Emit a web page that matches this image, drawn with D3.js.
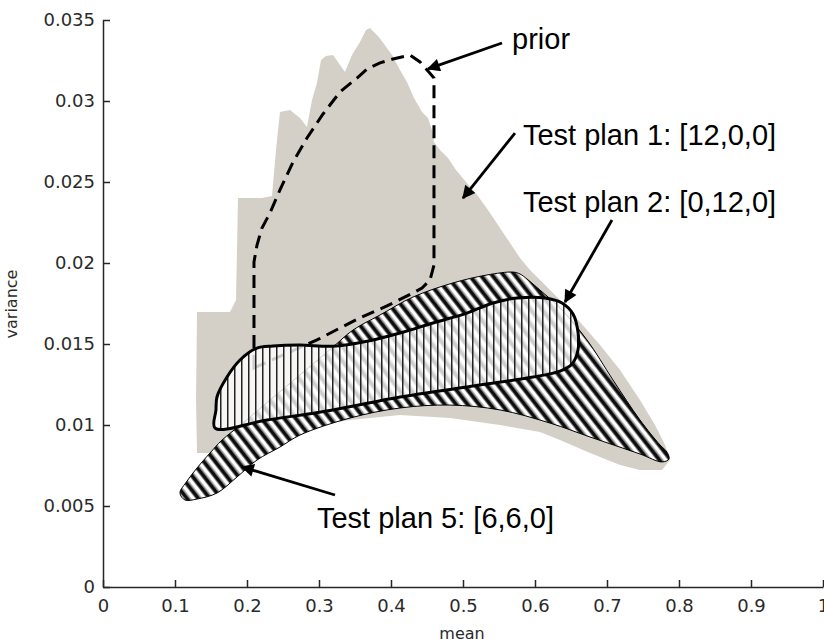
<!DOCTYPE html>
<html>
<head>
<meta charset="UTF-8">
<title>mean vs variance</title>
<style>
    body { margin: 0; padding: 0; background: #fff; }
    svg { display: block; }
    .axis text { font-family: 'DejaVu Sans', sans-serif; font-size: 18px; fill: #2a2a2a; }
    .axis path, .axis line { stroke: #262626; stroke-width: 1.5px; }
    .note { font-family: 'Liberation Sans', Arial, sans-serif; font-size: 29px; fill: #000; }
    .axlabel { font-family: 'DejaVu Sans', sans-serif; font-size: 16px; fill: #2a2a2a; }
</style>
</head>
<body>
<svg></svg>
<script src="https://d3js.org/d3.v7.min.js"></script>
<script>

// canvas
let w = 824, h = 644;

// ticks
let meanTicks = [0, 0.1, 0.2, 0.3, 0.4, 0.5, 0.6, 0.7, 0.8, 0.9, 1];
let meanTickLabels = ["0", "0.1", "0.2", "0.3", "0.4", "0.5", "0.6", "0.7", "0.8", "0.9", "1"];
let varTicks = [0, 0.005, 0.01, 0.015, 0.02, 0.025, 0.03, 0.035];
let varTickLabels = ["0", "0.005", "0.01", "0.015", "0.02", "0.025", "0.03", "0.035"];

// test plan 1: [12,0,0] - the grey cloud  [mean, variance]
let plan1 = [
    [0.3708, 0.03451], [0.3819, 0.03401], [0.3903, 0.03352], [0.4014, 0.03284], [0.4125, 0.03191],
    [0.4222, 0.03117], [0.4319, 0.03019], [0.4431, 0.02932], [0.4514, 0.02895], [0.4569, 0.02821],
    [0.4597, 0.02747], [0.4681, 0.02698], [0.4792, 0.02648], [0.4903, 0.02574], [0.5042, 0.02500],
    [0.5208, 0.02414], [0.5347, 0.02327], [0.5514, 0.02216], [0.5653, 0.02123], [0.5792, 0.02031],
    [0.5931, 0.01957], [0.6139, 0.01864], [0.6347, 0.01772], [0.6625, 0.01636], [0.6903, 0.01494],
    [0.7181, 0.01340], [0.7458, 0.01154], [0.7667, 0.01000], [0.7806, 0.00877], [0.7875, 0.00784],
    [0.7764, 0.00722], [0.7458, 0.00722], [0.7181, 0.00753], [0.6764, 0.00827], [0.6347, 0.00907],
    [0.6069, 0.00957], [0.5514, 0.01000], [0.4819, 0.01043], [0.4125, 0.01062], [0.3431, 0.01031],
    [0.2736, 0.00981], [0.2181, 0.00920], [0.1764, 0.00864], [0.1556, 0.00827], [0.1306, 0.00827],
    [0.1292, 0.01154], [0.1306, 0.01698], [0.1764, 0.01698], [0.1847, 0.01772], [0.1861, 0.02080],
    [0.1875, 0.02401], [0.2208, 0.02401], [0.2347, 0.02414], [0.2403, 0.02698], [0.2458, 0.02932],
    [0.2597, 0.02944], [0.2736, 0.02895], [0.2833, 0.02840], [0.2903, 0.03006], [0.2972, 0.03111],
    [0.3028, 0.03253], [0.3097, 0.03278], [0.3194, 0.03284], [0.3292, 0.03222], [0.3361, 0.03179],
    [0.3458, 0.03284], [0.3569, 0.03364], [0.3653, 0.03438]
];

// prior (dashed outline)
let prior = [
    [0.2097, 0.01352], [0.2097, 0.01772], [0.2097, 0.02006], [0.2139, 0.02111], [0.2208, 0.02216],
    [0.2319, 0.02309], [0.2458, 0.02451], [0.2639, 0.02623], [0.2833, 0.02772], [0.3056, 0.02920],
    [0.3292, 0.03056], [0.3528, 0.03142], [0.3667, 0.03198], [0.3847, 0.03235], [0.4028, 0.03259],
    [0.4264, 0.03284], [0.4403, 0.03241], [0.4514, 0.03185], [0.4597, 0.03142], [0.4597, 0.01988],
    [0.4542, 0.01895], [0.4431, 0.01846], [0.4306, 0.01815], [0.3944, 0.01735], [0.3569, 0.01661],
    [0.3292, 0.01599], [0.2972, 0.01525], [0.2597, 0.01451]
];

// test plan 5: [6,6,0] - diagonal hatch
let plan5 = [
    [0.1069, 0.00580], [0.1167, 0.00654], [0.1306, 0.00735], [0.1486, 0.00827], [0.1653, 0.00907],
    [0.1944, 0.01012], [0.2319, 0.01154], [0.2736, 0.01309], [0.3194, 0.01481], [0.3472, 0.01586],
    [0.3847, 0.01679], [0.4306, 0.01790], [0.4861, 0.01877], [0.5333, 0.01926], [0.5694, 0.01944],
    [0.5792, 0.01932], [0.5889, 0.01901], [0.6069, 0.01833], [0.6347, 0.01722], [0.6722, 0.01525],
    [0.7083, 0.01278], [0.7458, 0.01031], [0.7736, 0.00877], [0.7833, 0.00833], [0.7861, 0.00790],
    [0.7764, 0.00772], [0.7458, 0.00821], [0.6764, 0.00926], [0.6208, 0.01012], [0.5514, 0.01093],
    [0.4819, 0.01123], [0.4125, 0.01105], [0.3431, 0.01043], [0.2736, 0.00938], [0.2458, 0.00864],
    [0.2139, 0.00784], [0.1861, 0.00679], [0.1583, 0.00580], [0.1306, 0.00543], [0.1139, 0.00537]
];

// test plan 2: [0,12,0] - vertical hatch, thick outline
let plan2 = [
    [0.1556, 0.00981], [0.1569, 0.01093], [0.1583, 0.01173], [0.1722, 0.01296], [0.1903, 0.01401],
    [0.2139, 0.01475], [0.2361, 0.01488], [0.2736, 0.01494], [0.3194, 0.01486], [0.3667, 0.01517],
    [0.4125, 0.01568], [0.4583, 0.01630], [0.5056, 0.01691], [0.5417, 0.01753], [0.5750, 0.01784],
    [0.6139, 0.01784], [0.6375, 0.01753], [0.6528, 0.01685], [0.6597, 0.01574], [0.6597, 0.01463],
    [0.6514, 0.01377], [0.6347, 0.01333], [0.5972, 0.01296], [0.5056, 0.01235], [0.4125, 0.01173],
    [0.3194, 0.01093], [0.2278, 0.01031]
];

// annotations: text anchor and arrow [from, to]
let noteText = ["prior", "Test plan 1: [12,0,0]", "Test plan 2: [0,12,0]", "Test plan 5: [6,6,0]"];
let noteAt = [[0.5681, 0.03321], [0.5833, 0.02728], [0.5833, 0.02315], [0.2972, 0.00364]];
let arrowFrom = [[0.5542, 0.03358], [0.5722, 0.02802], [0.7069, 0.02265], [0.3222, 0.00568]];
let arrowTo = [[0.4514, 0.03198], [0.5000, 0.02401], [0.6417, 0.01759], [0.1931, 0.00741]];

let svg = d3.select("svg")
    .attr("width", w)
    .attr("height", h);

let x = d3.scaleLinear().domain([0, 1]).range([103, 823]);
let y = d3.scaleLinear().domain([0, 0.035]).range([587, 20]);

// patterns
let defs = svg.append("defs");

let diag = defs.append("pattern")
    .attr("id", "diag")
    .attr("patternUnits", "userSpaceOnUse")
    .attr("width", 9).attr("height", 9)
    .attr("patternTransform", "rotate(-38)");
diag.append("rect").attr("width", 9).attr("height", 9).attr("fill", "#fff");
diag.append("rect").attr("x", 0).attr("width", 1).attr("height", 9).attr("fill", "#777");
diag.append("rect").attr("x", 1).attr("width", 3.5).attr("height", 9).attr("fill", "#0d0d0d");
diag.append("rect").attr("x", 4.5).attr("width", 1).attr("height", 9).attr("fill", "#777");

let vert = defs.append("pattern")
    .attr("id", "vert")
    .attr("patternUnits", "userSpaceOnUse")
    .attr("width", 7).attr("height", 7);
vert.append("rect").attr("x", 3).attr("width", 1.5).attr("height", 7).attr("fill", "#222");

let arrowHead = defs.append("marker")
    .attr("id", "head")
    .attr("viewBox", "0 0 10 10")
    .attr("refX", 9).attr("refY", 5)
    .attr("markerUnits", "userSpaceOnUse")
    .attr("markerWidth", 18).attr("markerHeight", 13)
    .attr("orient", "auto");
arrowHead.append("path").attr("d", "M0,0 L10,5 L0,10 Z").attr("fill", "#000");

// line generators
let jagged = d3.line().x(d => x(d[0])).y(d => y(d[1])).curve(d3.curveLinearClosed);
let smooth = d3.line().x(d => x(d[0])).y(d => y(d[1])).curve(d3.curveCatmullRomClosed.alpha(0.5));

// grey cloud
svg.append("path")
    .attr("d", jagged(plan1))
    .attr("fill", "#d4d0c8");

// prior
svg.append("path")
    .attr("d", jagged(prior))
    .attr("fill", "none")
    .attr("stroke", "#000")
    .attr("stroke-width", 3)
    .attr("stroke-dasharray", "13,7");

// plan 5
svg.append("path")
    .attr("d", smooth(plan5))
    .attr("fill", "url(#diag)")
    .attr("stroke", "#000")
    .attr("stroke-width", 1);

// plan 2
svg.append("path")
    .attr("d", smooth(plan2))
    .attr("fill", "#fff")
    .attr("fill-opacity", 0.8);
svg.append("path")
    .attr("d", smooth(plan2))
    .attr("fill", "url(#vert)")
    .attr("stroke", "#000")
    .attr("stroke-width", 3);

// axes
let xAxis = d3.axisBottom(x)
    .tickValues(meanTicks)
    .tickFormat((d, i) => meanTickLabels[i])
    .tickSizeInner(-7).tickSizeOuter(0).tickPadding(12);
let yAxis = d3.axisLeft(y)
    .tickValues(varTicks)
    .tickFormat((d, i) => varTickLabels[i])
    .tickSizeInner(-7).tickSizeOuter(0).tickPadding(8);

svg.append("g").attr("class", "axis")
    .attr("transform", "translate(0,587)")
    .call(xAxis);
svg.append("g").attr("class", "axis")
    .attr("transform", "translate(103,0)")
    .call(yAxis);

svg.append("text").attr("class", "axlabel")
    .attr("x", 462).attr("y", 639)
    .attr("text-anchor", "middle")
    .text("mean");
svg.append("text").attr("class", "axlabel")
    .attr("transform", "translate(17,304) rotate(-90)")
    .attr("text-anchor", "middle")
    .text("variance");

// arrows + notes
svg.append("g").selectAll("line")
    .data(arrowFrom)
    .enter()
    .append("line")
    .attr("x1", d => x(d[0])).attr("y1", d => y(d[1]))
    .attr("x2", (d, i) => x(arrowTo[i][0])).attr("y2", (d, i) => y(arrowTo[i][1]))
    .attr("stroke", "#000")
    .attr("stroke-width", 2.8)
    .attr("marker-end", "url(#head)");

svg.append("g").selectAll("text")
    .data(noteText)
    .enter()
    .append("text")
    .attr("class", "note")
    .attr("x", (d, i) => x(noteAt[i][0]))
    .attr("y", (d, i) => y(noteAt[i][1]))
    .text(d => d);

</script>
</body>
</html>
